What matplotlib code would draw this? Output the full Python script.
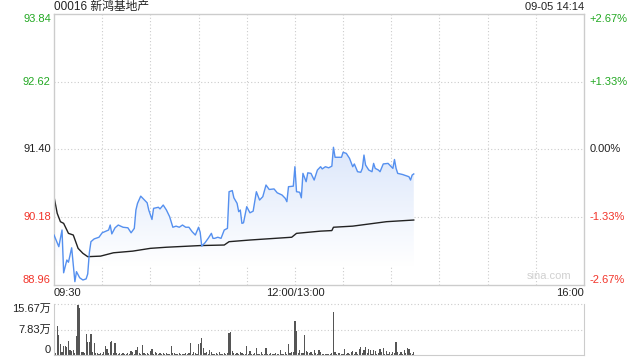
import numpy as np
import matplotlib
matplotlib.use('Agg')
import matplotlib.pyplot as plt
from matplotlib.colors import LinearSegmentedColormap

plt.rcParams['font.family'] = ['Liberation Sans', 'Noto Sans CJK SC']

title = '00016 新鸿基地产'
stamp = '09-05 14:14'
prev_close = 91.40
session_len = 330  # 09:30-12:00 + 13:00-16:00, in minutes

# price, minutes since 09:30 (lunch removed)
price_min = [0, 3, 5, 6, 8, 9, 11, 13, 14, 16, 18, 20, 21, 22, 23, 25, 28, 30, 34, 35,
             36, 38, 40, 43, 46, 48, 50, 51, 52, 54, 55, 58, 59, 61, 62, 65, 66, 68, 70, 72,
             74, 76, 78, 80, 82, 84, 86, 88, 90, 91, 92, 94, 96, 98, 99, 100, 102, 104, 106, 108,
             109, 111, 112, 114, 115, 116, 117, 118, 120, 122, 124, 126, 128, 130, 132, 134, 137, 139, 142, 144,
             145, 146, 149, 150, 151, 153, 154, 155, 157, 158, 160, 162, 164, 166, 167, 169, 171, 173, 174, 175,
             177, 179, 180, 182, 184, 186, 187, 189, 191, 192, 193, 194, 196, 198, 199, 200, 202, 203, 205, 208,
             209, 211, 212, 213, 214, 217, 221, 222, 223, 224]
price = [89.86, 89.65, 89.95, 89.18, 89.41, 89.37, 89.63, 89.02, 89.20, 89.09, 89.05, 89.07, 89.16, 89.54, 89.74, 89.79, 89.82, 89.90, 89.95, 90.04,
         89.88, 89.99, 90.04, 90.00, 89.99, 89.90, 89.98, 90.31, 90.43, 90.56, 90.53, 90.44, 90.31, 90.14, 90.34, 90.36, 90.33, 90.40, 90.31, 90.19,
         90.00, 90.02, 90.00, 90.04, 90.00, 90.00, 89.92, 89.86, 90.00, 89.91, 89.66, 89.72, 89.80, 89.89, 89.80, 89.80, 89.82, 89.80, 89.95, 89.98,
         90.64, 90.66, 90.53, 90.43, 90.28, 90.31, 90.07, 90.08, 90.37, 90.26, 90.29, 90.64, 90.49, 90.55, 90.76, 90.68, 90.69, 90.62, 90.58, 90.52,
         90.46, 90.73, 90.74, 91.09, 90.64, 90.63, 90.53, 90.97, 90.82, 90.98, 90.97, 90.85, 91.03, 91.09, 91.05, 91.09, 91.07, 91.10, 91.44, 91.26,
         91.26, 91.26, 91.35, 91.33, 91.24, 91.09, 91.14, 91.00, 90.99, 91.06, 91.30, 91.12, 91.03, 91.00, 91.15, 91.06, 91.03, 91.00, 91.14, 91.15,
         91.12, 91.06, 91.22, 91.06, 90.97, 90.95, 90.91, 90.85, 90.94, 90.96]

# average price line
avg_min = [0, 2, 4, 6, 9, 12, 15, 18, 21, 29, 37, 49, 60, 70, 91, 106, 109, 122, 148, 151,
           166, 173, 174, 186, 207, 224]
avg = [90.55, 90.25, 90.10, 90.07, 89.89, 89.86, 89.62, 89.53, 89.47, 89.48, 89.54, 89.57, 89.62, 89.64, 89.67, 89.68, 89.74, 89.77, 89.82, 89.89,
       89.93, 89.94, 90.00, 90.02, 90.10, 90.13]

# volume per minute, in 万
volume = [14.4, 0.6, 9.0, 6.2, 3.3, 0.8, 2.8, 2.9, 2.6, 4.3, 1.5, 1.3, 1.5, 0.6, 5.7,
          15.5, 14.4, 0.8, 1.0, 0.6, 6.5, 3.9, 3.9, 6.5, 1.0, 3.6, 0.5, 0.7, 0.4, 0.5,
          0.4, 1.0, 2.8, 1.8, 0.6, 4.1, 4.3, 0.6, 3.6, 0.7, 0.4, 0.7, 0.3, 0.5, 0.3,
          0.4, 0.5, 0.3, 1.2, 1.0, 0.4, 1.5, 2.6, 0.5, 0.4, 3.1, 0.7, 0.4, 0.7, 0.3,
          1.3, 1.8, 0.4, 1.0, 0.7, 0.3, 0.5, 0.3, 0.7, 0.4, 0.7, 0.3, 0.4, 2.8, 0.5,
          0.7, 0.3, 0.4, 0.5, 0.3, 0.4, 0.3, 0.7, 0.4, 0.5, 3.8, 0.4, 1.0, 0.5, 0.4,
          3.4, 3.6, 5.2, 2.0, 0.5, 1.0, 0.4, 1.5, 0.8, 0.4, 0.3, 0.5, 0.3, 1.0, 0.4,
          0.3, 0.7, 0.4, 0.5, 6.9, 7.2, 1.3, 0.5, 0.4, 0.7, 0.4, 1.0, 0.5, 0.4, 0.3,
          2.8, 0.4, 1.3, 0.4, 0.3, 0.5, 2.0, 0.4, 0.3, 1.0, 0.4, 0.3, 2.0, 0.4, 0.3,
          0.7, 0.3, 0.4, 0.7, 0.3, 0.4, 1.5, 0.3, 0.4, 1.0, 0.4, 3.4, 0.5, 1.0, 1.0,
          10.6, 7.5, 0.6, 1.5, 0.5, 0.6, 6.2, 1.3, 1.0, 0.5, 1.0, 0.4, 1.5, 0.5, 0.4,
          1.5, 1.0, 0.4, 0.3, 0.4, 0.3, 0.4, 0.3, 0.5, 13.1, 1.0, 0.4, 0.5, 0.5, 0.3,
          0.4, 1.8, 0.4, 0.7, 0.4, 1.0, 1.3, 0.4, 1.0, 0.4, 1.8, 2.6, 0.5, 1.5, 2.4,
          0.5, 1.8, 1.5, 0.4, 1.5, 1.3, 0.4, 0.5, 1.8, 1.0, 2.0, 0.4, 1.3, 0.4, 1.0,
          0.4, 1.0, 0.5, 4.1, 1.0, 0.4, 1.0, 0.4, 1.5, 0.5, 2.0, 1.8, 0.5, 0.4, 1.0]

price_ticks = [88.96, 90.18, 91.40, 92.62, 93.84]
pct_labels = ['-2.67%', '-1.33%', '0.00%', '+1.33%', '+2.67%']
time_ticks = [0, 150, 330]
time_labels = ['09:30', '12:00/13:00', '16:00']
vol_ticks = [0, 7.83, 15.67]
vol_labels = ['0', '7.83万', '15.67万']

green = '#22a822'
red = '#f2342a'
grey = '#cccccc'
fs = 8

fig = plt.figure(figsize=(6.4, 3.6), dpi=100)
ax = fig.add_axes([54 / 640, 1 - 285 / 360, 530 / 640, 271 / 360])
ax2 = fig.add_axes([54 / 640, 1 - 355 / 360, 530 / 640, 51 / 360])

# main price panel
ax.set_xlim(0, session_len)
ax.set_ylim(price_ticks[0], price_ticks[-1])
for s in ax.spines.values():
    s.set_color(grey)
    s.set_linewidth(1)
ax.set_xticks([])
ax.set_yticks([])
for x in range(30, session_len, 30):
    ax.axvline(x, color=grey, lw=0.8, ls=(0, (1, 2)), zorder=0)
for y in price_ticks[1:-1]:
    ax.axhline(y, color=grey, lw=0.8, ls=(0, (1, 2)), zorder=0)

# gradient fill under price line
cmap = LinearSegmentedColormap.from_list('fade', ['#ffffff', '#dce7fb'])
poly = ax.fill_between(price_min, price, price_ticks[0], color='none', lw=0)
grad = np.linspace(0, 1, 200).reshape(-1, 1)
img = ax.imshow(grad, cmap=cmap, aspect='auto', origin='lower',
                extent=[0, session_len, 89.3, max(price)], zorder=1)
img.set_clip_path(poly.get_paths()[0], transform=ax.transData)

ax.plot(price_min, price, color='#5590ef', lw=1, zorder=3)
ax.plot(avg_min, avg, color='#222222', lw=1, zorder=2)

ytr = ax.get_yaxis_transform()
for i, (p, lab) in enumerate(zip(price_ticks, pct_labels)):
    c = red if p < prev_close else (green if p > prev_close else '#222222')
    va = 'bottom' if i == 0 else ('top' if i == len(price_ticks) - 1 else 'center')
    ax.text(-0.006, p, f'{p:.2f}', transform=ytr, ha='right', va=va, color=c, fontsize=fs)
    ax.text(1.011, p, lab, transform=ytr, ha='left', va=va, color=c, fontsize=fs)

xtr = ax.get_xaxis_transform()
for t, lab, ha in zip(time_ticks, time_labels, ['left', 'center', 'right']):
    ax.text(t, -0.012, lab, transform=xtr, ha=ha, va='top', color='#222222', fontsize=fs)

ax.text(0, 1.024, title, transform=ax.transAxes, ha='left', va='center', fontsize=fs + 0.5, color='#222222')
ax.text(1, 1.024, stamp, transform=ax.transAxes, ha='right', va='center', fontsize=fs, color='#222222')
ax.text(0.977, 0.015, 'sina.com', transform=ax.transAxes, ha='right', va='bottom', fontsize=fs, color='#d0d0d0')

# volume panel
ax2.bar(np.arange(len(volume)), volume, width=0.75, color='#555555', lw=0)
ax2.set_xlim(0, session_len)
ax2.set_ylim(0, vol_ticks[-1])
ax2.set_xticks([])
ax2.set_yticks([])
for k in ['left', 'right', 'bottom']:
    ax2.spines[k].set_color(grey)
ax2.spines['top'].set_visible(False)
for y in vol_ticks[1:]:
    ax2.axhline(y, color=grey, lw=0.8, ls=(0, (1, 2)), zorder=0, clip_on=False)
ytr2 = ax2.get_yaxis_transform()
for i, (v, lab) in enumerate(zip(vol_ticks, vol_labels)):
    va = 'bottom' if i == 0 else ('center' if i == len(vol_ticks) - 1 else 'center')
    y = v - 1.6 if i == len(vol_ticks) - 1 else v
    ax2.text(-0.006, y, lab, transform=ytr2, ha='right', va=va, color='#222222', fontsize=fs)

fig.savefig('out.png', dpi=100)
